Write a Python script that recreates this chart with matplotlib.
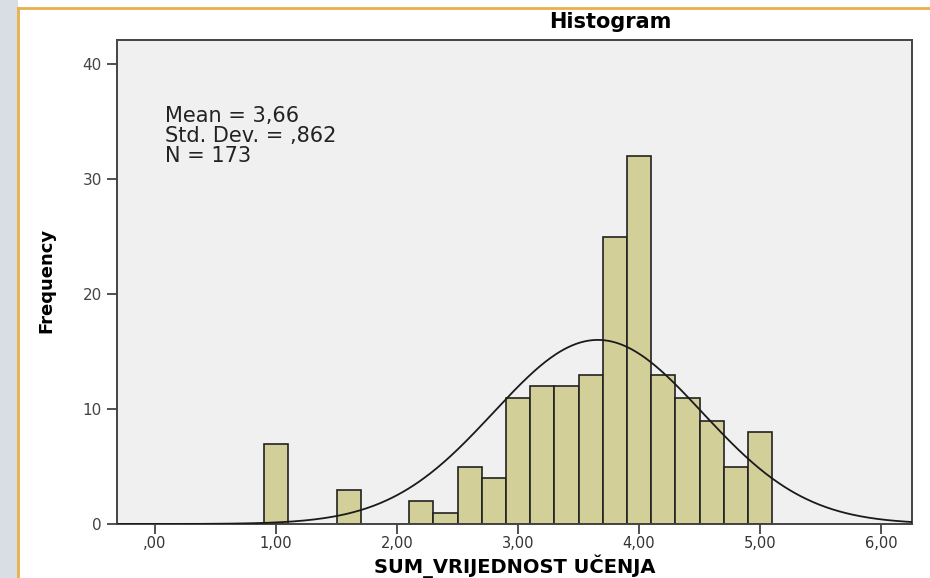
import numpy as np
import matplotlib
matplotlib.use("Agg")
import matplotlib.pyplot as plt
from matplotlib.patches import Rectangle
from matplotlib.lines import Line2D

# Data
bin_centers = [1.0, 1.6, 2.2, 2.4, 2.6, 2.8, 3.0, 3.2, 3.4, 3.6, 3.8, 4.0, 4.2, 4.4, 4.6, 4.8, 5.0]
frequencies = [7, 3, 2, 1, 5, 4, 11, 12, 12, 13, 25, 32, 13, 11, 9, 5, 8]
bin_width = 0.2
mean_val = 3.66
std_val = 0.862
n_val = 173
x_ticks = [0, 1, 2, 3, 4, 5, 6]
x_tick_labels = [",00", "1,00", "2,00", "3,00", "4,00", "5,00", "6,00"]
y_ticks = [0, 10, 20, 30, 40]
stats_lines = ["Mean = 3,66", "Std. Dev. = ,862", "N = 173"]

W, H = 930, 578
fig = plt.figure(figsize=(W / 100, H / 100), dpi=100)
fig.patch.set_facecolor("white")

# decorative left strip and orange frame
fig.patches.append(Rectangle((0, 0), 18 / W, 1, transform=fig.transFigure,
                             facecolor="#d9dee4", edgecolor="none", zorder=0))
fig.lines.append(Line2D([18 / W, 18 / W], [0, 1 - 8 / H], transform=fig.transFigure,
                        color="#e8b04a", lw=2))
fig.lines.append(Line2D([18 / W, 1], [1 - 8 / H, 1 - 8 / H], transform=fig.transFigure,
                        color="#e8b04a", lw=2))

left, right, top, bottom = 117, 912, 40, 524
ax = fig.add_axes([left / W, 1 - bottom / H, (right - left) / W, (bottom - top) / H])
ax.set_facecolor("#f0f0f0")

ax.bar(bin_centers, frequencies, width=bin_width, color="#d3cf98",
       edgecolor="#222222", linewidth=1.2, zorder=2)

xs = np.linspace(-0.35, 6.3, 600)
curve = n_val * bin_width / (std_val * np.sqrt(2 * np.pi)) * np.exp(-0.5 * ((xs - mean_val) / std_val) ** 2)
ax.plot(xs, curve, color="#1a1a1a", lw=1.3, zorder=3)

ax.set_xlim(-0.314, 6.256)
ax.set_ylim(0, 42.1)
ax.set_xticks(x_ticks)
ax.set_xticklabels(x_tick_labels, fontsize=10.5, color="#333333", family="DejaVu Sans")
ax.set_yticks(y_ticks)
ax.set_yticklabels([str(v) for v in y_ticks], fontsize=11, color="#444444", family="DejaVu Sans")
ax.tick_params(axis="both", direction="out", length=7, width=1.2, color="#333333")
ax.tick_params(axis="y", pad=4)
ax.tick_params(axis="x", pad=2)
for s in ax.spines.values():
    s.set_color("#444444")
    s.set_linewidth(1.4)

for i, line in enumerate(stats_lines):
    fig.text(165 / W, 1 - (116 + 20 * i) / H, line, fontsize=15, color="#222222",
             va="center", ha="left", family="DejaVu Sans")

fig.text(610 / W, 1 - 22 / H, "Histogram", fontsize=15, fontweight="bold",
         ha="center", va="center", family="DejaVu Sans")
fig.text(515 / W, 5 / H, "SUM_VRIJEDNOST UČENJA", fontsize=14, fontweight="bold",
         ha="center", va="baseline", family="DejaVu Sans")
fig.text(46 / W, 1 - 280 / H, "Frequency", fontsize=13, fontweight="bold", rotation=90,
         ha="center", va="center", family=["Liberation Sans Narrow", "DejaVu Sans"])

fig.savefig("out.png", dpi=100, facecolor=fig.get_facecolor())
